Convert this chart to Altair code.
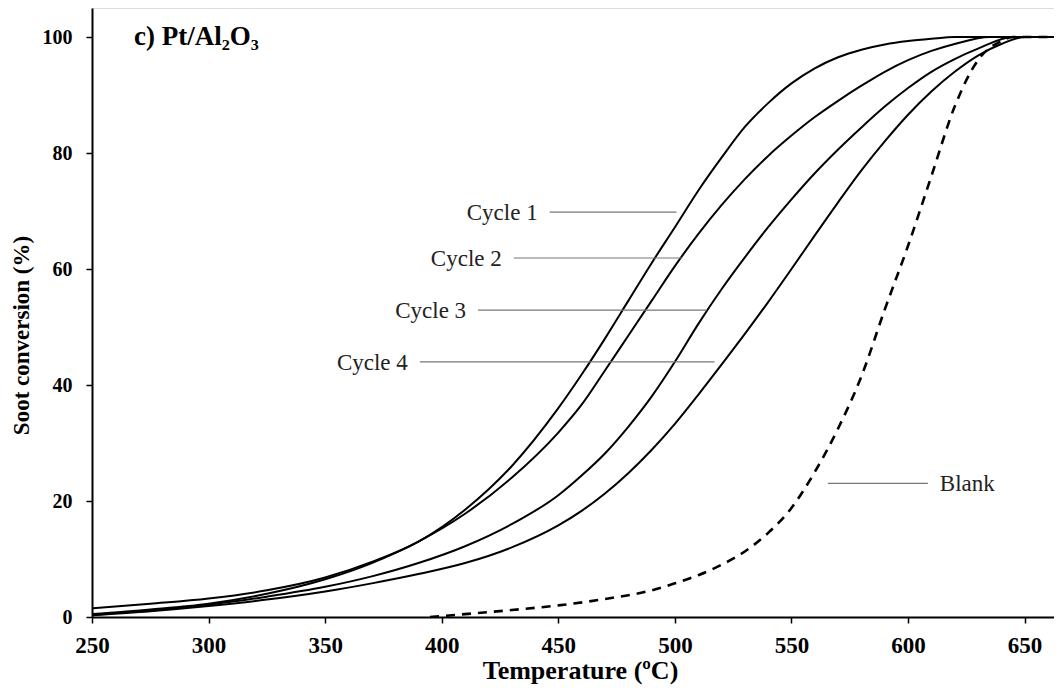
import altair as alt
import pandas as pd

# Temperature (°C) and soot conversion (%)
c1_t = [250, 275, 300, 325, 350, 370, 390, 410, 430, 450, 460, 470, 480, 490, 500, 510, 520, 530,
        540, 550, 560, 570, 580, 590, 600, 610, 620, 666]
c1_v = [1.5, 2.3, 3.2, 4.6, 6.8, 9.5, 13.0, 18.5, 26.0, 36.0, 41.8, 48.0, 54.5, 61.0, 67.2, 73.5, 79.2, 84.5,
        88.6, 92.0, 94.6, 96.5, 97.8, 98.7, 99.3, 99.7, 100, 100]

c2_t = [250, 275, 300, 325, 350, 370, 390, 410, 430, 450, 460, 470, 480, 490, 500, 510, 520, 530,
        540, 550, 560, 570, 580, 590, 600, 610, 620, 635, 666]
c2_v = [0.5, 1.3, 2.3, 4.0, 6.5, 9.3, 13.0, 17.8, 24.0, 31.8, 36.6, 42.5, 48.5, 54.5, 60.5, 66.0, 71.0, 75.5,
        79.5, 83.0, 86.2, 89.0, 91.6, 94.0, 96.0, 97.6, 98.8, 100, 100]

c3_t = [250, 275, 300, 325, 350, 370, 390, 410, 430, 450, 460, 470, 480, 490, 500, 510, 520, 530,
        540, 550, 560, 570, 580, 590, 600, 610, 620, 630, 645, 666]
c3_v = [0.4, 1.1, 2.1, 3.5, 5.2, 7.0, 9.3, 12.2, 16.0, 21.0, 24.4, 28.2, 32.8, 38.0, 44.0, 50.5, 56.5, 62.0,
        67.2, 72.0, 76.5, 80.6, 84.4, 88.0, 91.2, 94.0, 96.2, 98.0, 100, 100]

c4_t = [250, 275, 300, 325, 350, 370, 390, 410, 430, 450, 460, 470, 480, 490, 500, 510, 520, 530,
        540, 550, 560, 570, 580, 590, 600, 610, 620, 630, 640, 650, 666]
c4_v = [0.3, 1.0, 1.9, 3.0, 4.4, 5.8, 7.4, 9.3, 12.0, 15.8, 18.3, 21.3, 24.8, 28.8, 33.3, 38.3, 43.5, 48.8,
        54.3, 60.0, 65.8, 71.5, 77.0, 82.0, 86.6, 90.6, 94.0, 96.8, 98.8, 100, 100]

blank_t = [395, 410, 430, 450, 470, 490, 500, 510, 520, 530, 540, 550, 560, 570, 580, 590, 600,
           610, 620, 630, 640, 645, 666]
blank_v = [0.0, 0.5, 1.2, 2.0, 3.1, 4.6, 5.8, 7.2, 9.0, 11.3, 14.5, 18.8, 25.0, 32.5, 41.5, 53.0, 64.0,
           76.0, 88.0, 96.0, 99.3, 100, 100]

# Annotation labels: text, pointer line start/end temperature, conversion level
ann_labels = ["Cycle 1", "Cycle 2", "Cycle 3", "Cycle 4"]
ann_x1 = [446.3, 430.9, 415.6, 390.6]
ann_x2 = [500.7, 503.2, 513.7, 517.0]
ann_y = [69.8, 61.9, 52.9, 44.0]

blank_label = "Blank"
blank_x1, blank_x2, blank_y = 565.6, 608.5, 23.05

x_ticks = [250, 300, 350, 400, 450, 500, 550, 600, 650]
y_ticks = [0, 20, 40, 60, 80, 100]

rows = []
for name, ts, vs in [("Cycle 1", c1_t, c1_v), ("Cycle 2", c2_t, c2_v),
                     ("Cycle 3", c3_t, c3_v), ("Cycle 4", c4_t, c4_v)]:
    for t, v in zip(ts, vs):
        rows.append({"series": name, "T": t, "X": v})
cycles = pd.DataFrame(rows)
blank = pd.DataFrame({"T": blank_t, "X": blank_v})

ann = pd.DataFrame({"label": ann_labels, "x1": ann_x1, "x2": ann_x2, "y": ann_y})
bann = pd.DataFrame({"label": [blank_label], "x1": [blank_x1], "x2": [blank_x2], "y": [blank_y]})
title_df = pd.DataFrame({"label": ["c) Pt/Al₂O₃"], "x": [268.0], "y": [100]})

FONT = "Liberation Serif"

xscale = alt.Scale(domain=[250, 662.6], nice=False, zero=False)
yscale = alt.Scale(domain=[0, 105], nice=False)

xaxis = alt.Axis(values=x_ticks, title="Temperature (ºC)", grid=False, format="d",
                 labelFont=FONT, labelFontWeight="bold", labelFontSize=23, labelColor="black",
                 labelPadding=11, titleFont=FONT, titleFontWeight="bold", titleFontSize=26,
                 titleColor="black", titlePadding=0, titleX=488, domainColor="black", domainWidth=2,
                 tickColor="black", tickWidth=1.5, tickSize=6, labelFlush=False)
yaxis = alt.Axis(values=y_ticks, title="Soot conversion (%)", grid=False,
                 labelFont=FONT, labelFontWeight="bold", labelFontSize=20, labelColor="black",
                 labelPadding=14, titleFont=FONT, titleFontWeight="bold", titleFontSize=23,
                 titleColor="black", titlePadding=9, titleY=327, domainColor="black", domainWidth=2,
                 tickColor="black", tickWidth=1.5, tickSize=6, labelFlush=False)

solid = alt.Chart(cycles).mark_line(color="black", strokeWidth=2, interpolate="monotone").encode(
    x=alt.X("T:Q", scale=xscale, axis=xaxis),
    y=alt.Y("X:Q", scale=yscale, axis=yaxis),
    detail="series:N",
)

dashed = alt.Chart(blank).mark_line(color="black", strokeWidth=2.6, strokeDash=[9, 7],
                                    interpolate="monotone").encode(
    x=alt.X("T:Q", scale=xscale), y=alt.Y("X:Q", scale=yscale))

pointers = alt.Chart(pd.concat([ann, bann])).mark_rule(color="#777777", strokeWidth=1.2).encode(
    x=alt.X("x1:Q", scale=xscale), x2="x2:Q", y=alt.Y("y:Q", scale=yscale))

cycle_text = alt.Chart(ann).mark_text(font=FONT, fontSize=23, color="#222222", align="right",
                                      baseline="middle", dx=-12, dy=1).encode(
    x=alt.X("x1:Q", scale=xscale), y=alt.Y("y:Q", scale=yscale), text="label:N")

blank_text = alt.Chart(bann).mark_text(font=FONT, fontSize=23, color="#222222", align="left",
                                       baseline="middle", dx=12, dy=1).encode(
    x=alt.X("x2:Q", scale=xscale), y=alt.Y("y:Q", scale=yscale), text="label:N")

panel_title = alt.Chart(title_df).mark_text(font=FONT, fontSize=27, fontWeight="bold", color="black",
                                            align="left", baseline="middle").encode(
    x=alt.X("x:Q", scale=xscale), y=alt.Y("y:Q", scale=yscale), text="label:N")

chart = alt.layer(solid, dashed, pointers, cycle_text, blank_text, panel_title).properties(
    width=962, height=609,
    autosize=alt.AutoSizeParams(type="none"),
    padding={"left": 84, "top": 0, "right": 0, "bottom": 72},
).configure_view(stroke=None).configure(background="white")

chart.save("out.html", embed_options={"renderer": "svg", "actions": False})
